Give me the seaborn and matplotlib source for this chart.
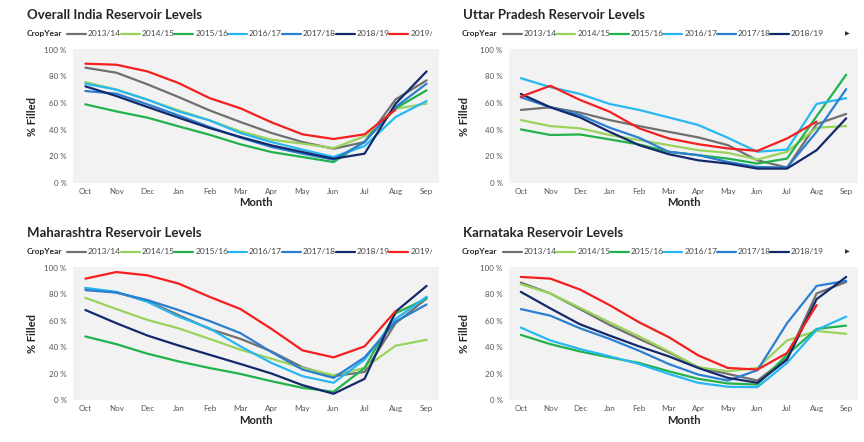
import numpy as np
import pandas as pd
import matplotlib
matplotlib.use("Agg")
import matplotlib.pyplot as plt
import seaborn as sns
from matplotlib.lines import Line2D
from matplotlib.transforms import Bbox, TransformedBbox

months = ["Oct", "Nov", "Dec", "Jan", "Feb", "Mar", "Apr", "May", "Jun", "Jul", "Aug", "Sep"]
crop_years = ["2013/14", "2014/15", "2015/16", "2016/17", "2017/18", "2018/19", "2019/20"]
year_colors = ["#707070", "#9ad35c", "#21b24b", "#27b7f2", "#2b7fd0", "#13296b", "#f51f1f"]
yticks = [0, 20, 40, 60, 80, 100]
nan = np.nan

india = {
    "2013/14": [86.5, 82.7, 74, 64.5, 54.5, 45.7, 37.5, 30.7, 25.7, 30.7, 62.7, 77],
    "2014/15": [75.7, 70, 62.5, 54.5, 47, 38.7, 32.5, 29.5, 26.2, 35, 55.7, 59.5],
    "2015/16": [59, 53.7, 49, 42.5, 36.2, 29, 23.2, 19.5, 15.7, 31, 56, 69.5],
    "2016/17": [74.5, 70, 62.5, 53.7, 47, 37.5, 30.7, 25, 19.5, 27.7, 49.5, 61.5],
    "2017/18": [69, 67, 59, 50.7, 42, 34, 27, 22, 17.5, 30.7, 57, 74.5],
    "2018/19": [72.5, 65.2, 57, 49, 41.2, 34.5, 28.2, 23.2, 18.2, 22, 59.5, 83.7],
    "2019/20": [89.5, 88.7, 83.7, 75, 63.7, 56, 45.5, 36.5, 33, 36.5, 55, nan],
}
uttar_pradesh = {
    "2013/14": [54.8, 56.8, 52.8, 47.2, 42.7, 38.4, 34.2, 28.4, 17, 11.6, 44.2, 51.8],
    "2014/15": [47.2, 42.7, 41, 36, 32.2, 28.4, 24.6, 22.6, 17.6, 23.4, 41.5, 42.7],
    "2015/16": [40.2, 36, 36.4, 32.7, 28.9, 23.4, 20.9, 18.3, 14.6, 18.3, 50, 81.2],
    "2016/17": [78.6, 71.9, 66.8, 59.3, 54.8, 49.2, 43.5, 33.9, 23.4, 25.1, 59.3, 63.6],
    "2017/18": [64.3, 56.8, 51, 41.5, 33.9, 23.4, 20.9, 15.8, 12, 11.6, 38.4, 70.4],
    "2018/19": [66.8, 56.8, 49.2, 38.4, 28.4, 21.6, 17, 14.6, 10.8, 10.8, 24.6, 48.5],
    "2019/20": [64.8, 72.9, 62.3, 53.5, 41, 33.4, 29.1, 25.9, 24.1, 33.4, 46, nan],
}
maharashtra = {
    "2013/14": [84.2, 81.2, 74.7, 64.2, 53.7, 46.2, 36.7, 24.7, 18, 21.2, 58, 76.7],
    "2014/15": [77.2, 68.7, 60.5, 54.2, 46.2, 38, 31.2, 24.2, 18.7, 24.2, 41, 45.5],
    "2015/16": [48, 42.2, 35, 29.2, 24.2, 19.7, 14.2, 9.2, 6.2, 24.2, 65.5, 76.7],
    "2016/17": [84.7, 81.7, 74.2, 63, 54.2, 40.5, 28, 18, 13, 30.5, 61.2, 78],
    "2017/18": [83, 81.2, 75.5, 68, 59.7, 50.5, 36.2, 23, 16.7, 32.2, 59.2, 72.2],
    "2018/19": [68, 58, 48.7, 41.2, 34.2, 27.2, 20, 11.2, 4.7, 16, 66.7, 86.2],
    "2019/20": [91.7, 96.7, 94.2, 88, 78, 68.7, 53.7, 37.5, 32.2, 40.5, 67.2, nan],
}
karnataka = {
    "2013/14": [88.7, 80.5, 68.7, 56.7, 46.2, 36, 24.7, 19.7, 14.7, 31.7, 80.5, 89.2],
    "2014/15": [87.5, 80.5, 69.7, 58.7, 48, 36.7, 24.7, 21.7, 24.2, 45, 52.2, 50],
    "2015/16": [49.2, 42.2, 36.7, 32.2, 28, 21.7, 16, 12.5, 11.7, 34.2, 53.7, 56.2],
    "2016/17": [54.7, 45, 38.5, 33, 27.2, 19.7, 13, 10, 9.7, 28, 53, 63],
    "2017/18": [68.7, 63.7, 54.2, 46.2, 37.2, 27.2, 19.2, 14.7, 22.5, 58, 86.2, 90],
    "2018/19": [81.7, 69.2, 57.2, 48.7, 40.5, 33, 24.2, 16.7, 13, 30.5, 76.2, 93],
    "2019/20": [93, 91.7, 83.5, 71.7, 58.7, 47.5, 33.7, 24.2, 23, 35.5, 71.7, nan],
}

panels = [
    ("Overall India Reservoir Levels", india, 7),
    ("Uttar Pradesh Reservoir Levels", uttar_pradesh, 6),
    ("Maharashtra Reservoir Levels", maharashtra, 7),
    ("Karnataka Reservoir Levels", karnataka, 6),
]

sns.set_style("white")
plt.rcParams["font.family"] = ["Lato", "DejaVu Sans"]

W, H = 864, 442
fig = plt.figure(figsize=(W / 100, H / 100), dpi=100)

# axes boxes in pixels: left, top, right, bottom
boxes = [(73, 49, 439, 183), (509, 49, 858, 183), (73, 267, 439, 400), (509, 267, 858, 400)]
title_pos = [(27, 15), (463, 15), (27, 233), (463, 233)]
legend_pos = [(27, 67, 33.5, 53.7), (462, 503, 33.5, 53.4), (27, 67, 251.5, 53.7), (462, 503, 251.5, 53.4)]
clip_right = [432, 864, 432, 864]

palette = dict(zip(crop_years, year_colors))

def fx(px):
    return px / W

def fy(py):
    return 1 - py / H

for i, (title, region, nshown) in enumerate(panels):
    l, t, r, b = boxes[i]
    ax = fig.add_axes([fx(l), fy(b), (r - l) / W, (b - t) / H])
    ax.set_facecolor("#f2f2f2")
    rows = []
    for yr in crop_years:
        for m_i, v in enumerate(region[yr]):
            rows.append({"month_idx": m_i, "pct": v, "CropYear": yr})
    df = pd.DataFrame(rows).dropna()
    sns.lineplot(data=df, x="month_idx", y="pct", hue="CropYear", hue_order=crop_years,
                 palette=palette, linewidth=1.6, legend=False, ax=ax, sort=True)
    ax.set_xlim(-0.4, 11.4)
    ax.set_ylim(0, 100.5)
    ax.set_xticks(range(len(months)))
    ax.set_xticklabels(months)
    ax.set_yticks(yticks)
    ax.set_yticklabels([f"{v} %" for v in yticks])
    ax.tick_params(axis="both", length=0, labelsize=5.8, labelcolor="#555555")
    ax.tick_params(axis="y", pad=4.5)
    ax.tick_params(axis="x", pad=3.5)
    for s in ax.spines.values():
        s.set_visible(False)
    ax.grid(False)
    ax.set_xlabel("Month", fontsize=8, fontweight="bold", color="#252525")
    ax.set_ylabel("% Filled", fontsize=8, fontweight="bold", color="#252525")
    ax.xaxis.label.set_va("center")
    ax.yaxis.label.set_va("center")
    ax.xaxis.set_label_coords(0.5, (b - 203) / (b - t) if i < 2 else (b - 421) / (b - t))
    ax.yaxis.set_label_coords((32 - l) / (r - l) if i % 2 == 0 else (465 - l) / (r - l), 0.5)

    tx, ty = title_pos[i]
    fig.text(fx(tx), fy(ty), title, fontsize=9.5, fontweight="bold", color="#252525",
             ha="left", va="center")

    cx, lx, ly, pitch = legend_pos[i]
    fig.text(fx(cx), fy(ly), "CropYear", fontsize=6, fontweight="bold", color="#252525",
             ha="left", va="center")
    clip = TransformedBbox(Bbox([[0, 0], [clip_right[i] / W, 1]]), fig.transFigure)
    for k in range(nshown):
        x0 = lx + k * pitch
        ln = Line2D([fx(x0), fx(x0 + 19)], [fy(ly), fy(ly)], transform=fig.transFigure,
                    color=year_colors[k], linewidth=1.6)
        fig.add_artist(ln)
        txt = fig.text(fx(x0 + 21), fy(ly), crop_years[k], fontsize=6, color="#444444",
                       ha="left", va="center")
        txt.set_clip_on(True)
        txt.set_clip_box(clip)
    if nshown < len(crop_years):
        fig.text(fx(845), fy(ly), "\u25B6", fontsize=4.5, color="#333333",
                 ha="left", va="center", family="DejaVu Sans")

fig.savefig("out.png", dpi=100, facecolor="white")
